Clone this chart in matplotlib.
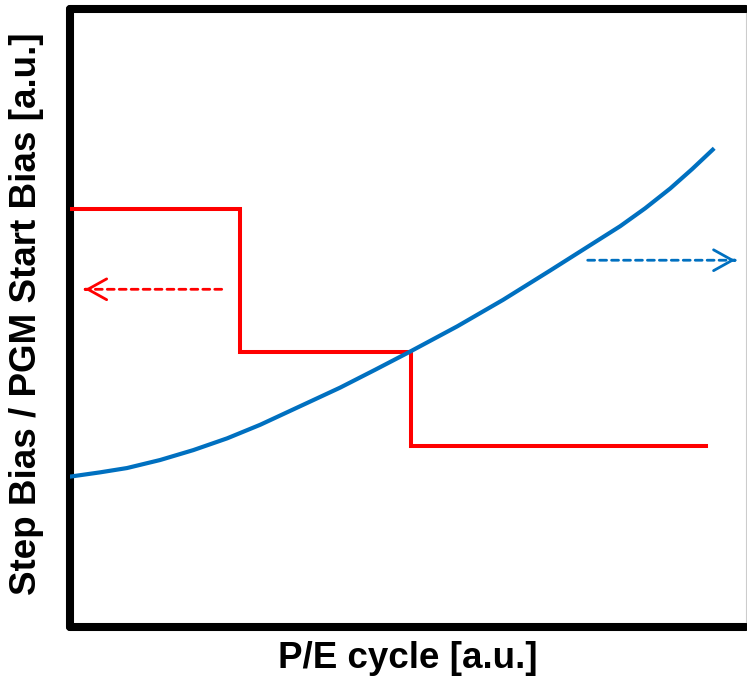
import matplotlib
matplotlib.use("Agg")
import matplotlib.pyplot as plt

# Red step (Step Bias / PGM Start Bias)
red_x = [0.0, 2.52, 2.52, 5.05, 5.05, 9.41]
red_y = [6.76, 6.76, 4.44, 4.44, 2.93, 2.93]

# Blue curve
blue_x = [0.0, 0.45, 0.85, 1.34, 1.83, 2.33, 2.82, 3.41, 4.00, 4.52,
          5.03, 5.73, 6.41, 7.10, 7.62, 8.14, 8.51, 8.88, 9.20, 9.53]
blue_y = [2.43, 2.50, 2.57, 2.70, 2.86, 3.05, 3.27, 3.57, 3.87, 4.16,
          4.45, 4.86, 5.29, 5.76, 6.12, 6.48, 6.77, 7.09, 7.40, 7.74]

# Arrow annotations (tail, tip)
red_arrow = ((2.25, 5.46), (0.23, 5.46))
blue_arrow = ((7.66, 5.93), (9.84, 5.93))

RED = "#ff0000"
BLUE = "#0070c0"

W, H = 747, 682
fig = plt.figure(figsize=(W / 100, H / 100), dpi=100)
L, R, T, B = 69.5, 746, 8.5, 627
ax = fig.add_axes([L / W, (H - B) / H, (R - L) / W, (B - T) / H])
ax.set_xlim(0, 10)
ax.set_ylim(0, 10)
ax.set_xticks([])
ax.set_yticks([])

for side in ["left", "top", "bottom"]:
    ax.spines[side].set_linewidth(5.8)
    ax.spines[side].set_color("black")
    ax.spines[side].set_capstyle("round")
    ax.spines[side].set_joinstyle("round")
ax.spines["right"].set_linewidth(0.8)
ax.spines["right"].set_color("#cccccc")

ax.plot(red_x, red_y, color=RED, lw=2.9, solid_joinstyle="miter", zorder=3)
ax.plot(blue_x, blue_y, color=BLUE, lw=3.0, solid_capstyle="butt",
        solid_joinstyle="round", zorder=4)

for (tail, tip), col in [(red_arrow, RED), (blue_arrow, BLUE)]:
    ax.annotate("", xy=tip, xytext=tail,
                arrowprops=dict(arrowstyle="-", color=col, lw=2.0,
                                linestyle=(0, (2.5, 1.8)), shrinkA=0, shrinkB=0))
    dx = 0.01 if tip[0] > tail[0] else -0.01
    ax.annotate("", xy=tip, xytext=(tip[0] - dx, tip[1]),
                arrowprops=dict(arrowstyle="->,head_length=1.35,head_width=0.75",
                                color=col, lw=2.0, shrinkA=0, shrinkB=0))

font = dict(family=["Liberation Sans", "DejaVu Sans"], fontweight="bold", fontsize=26.5)
ax.set_xlabel("P/E cycle [a.u.]", **font)
ax.xaxis.set_label_coords(0.5, (B - 659) / (B - T))
ax.xaxis.label.set_va("center")
ax.set_ylabel("Step Bias / PGM Start Bias [a.u.]", **font)
ax.yaxis.set_label_coords((27 - L) / (R - L), (B - 313.5) / (B - T))
ax.yaxis.label.set_va("center")

fig.savefig("out.png", dpi=100)
